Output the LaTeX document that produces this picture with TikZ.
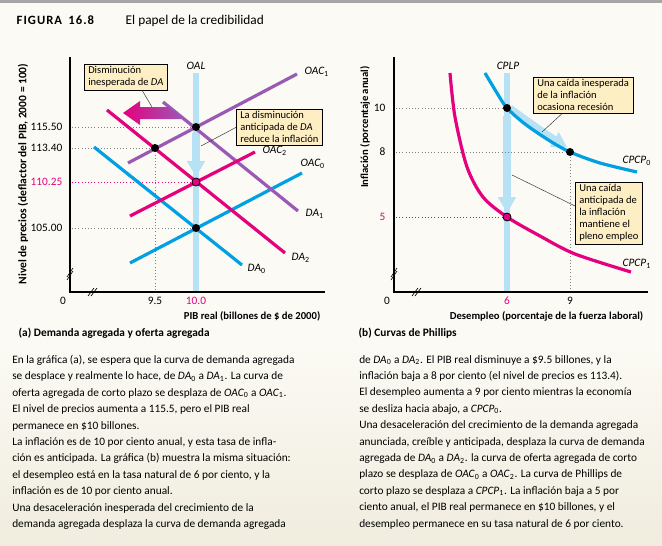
\documentclass[tikz,border=0pt]{standalone}
\usepackage{fontspec}
\setmainfont{Carlito}
\usetikzlibrary{arrows.meta,positioning}
\definecolor{cyanline}{RGB}{0,160,227}
\definecolor{pinkline}{RGB}{229,0,126}
\definecolor{purpleline}{RGB}{155,89,182}
\definecolor{paleblue}{RGB}{183,226,245}
\definecolor{notefill}{RGB}{253,238,196}
\definecolor{paper}{RGB}{251,250,244}
\definecolor{papershade}{RGB}{240,236,222}
\tikzset{curve/.style={line width=2.4pt},
         guide/.style={gray, line width=0.7pt, dash pattern=on 0.8pt off 1.6pt},
         axis/.style={line width=0.8pt},
         note/.style={draw, fill=notefill, line width=0.4pt, align=left, anchor=north west, inner xsep=3pt, inner ysep=1.8pt, font=\fontsize{7.9}{9}\selectfont},
         dot/.style={circle, fill=black, inner sep=0pt, minimum size=6pt},
         pinkdot/.style={dot, fill=pinkline, draw=black, line width=0.6pt},
         tick/.style={font=\fontsize{8.5}{10}\selectfont},
         curvelabel/.style={font=\fontsize{8.5}{10}\selectfont\itshape, anchor=west},
         axistitle/.style={font=\fontsize{8}{10}\selectfont\bfseries},
         pointer/.style={line width=0.35pt, black!80},
         bigarrow/.style={paleblue, line width=6pt, -{Triangle[width=13pt,length=12pt]}},
         bodytext/.style={align=left, anchor=north west, inner sep=0pt, font=\fontsize{8.5}{12.3}\selectfont}}

\begin{document}
\begin{tikzpicture}[x=0.75pt, y=-0.75pt]
                    \useasboundingbox (0,0) rectangle (662,546);
                    \fill[paper] (0,0) rectangle (662,546);
                    \shade[top color=paper, bottom color=papershade] (0,345) rectangle (662,546);
                    \fill[gray!70] (0,0) rectangle (662,3);

                    \node[anchor=base west, font=\fontsize{9.5}{11}\selectfont\bfseries\addfontfeatures{LetterSpace=8}] (fignum) at (12,24) {FIGURA\hspace{0.5em}16.8};
                    \node[anchor=base west, font=\fontsize{10}{12}\selectfont] (figtitle) at (121,24) {El papel de la credibilidad};

                    \draw[paleblue, line width=4.5pt] (196,73) -- (196,291);
                    \draw[bigarrow] (196,133) -- (196,177);
                    \node[curvelabel, anchor=center] (oal) at (196,66) {OAL};

                    \draw[guide] (72,127) -- (196,127);
                    \draw[guide] (72,148) -- (155,148) -- (155,291);
                    \draw[guide, pinkline] (72,182) -- (196,182);
                    \draw[guide] (72,228) -- (196,228);

                    \draw[curve, cyanline] (94,147) -- (242,265);
                    \draw[curve, cyanline] (130,263) -- (302,173);
                    \draw[curve, purpleline] (163,102) -- (298,211);
                    \draw[curve, purpleline] (128,163) -- (297,74);
                    \draw[curve, pinkline] (107,110) -- (285,253);
                    \draw[curve, pinkline] (130,216) -- (255,152);

                    \shade[left color=pinkline, right color=purpleline] (123,113) -- (140,101) -- (140,107) -- (169,107) -- (183,119) -- (140,119) -- (140,125) -- cycle;

                    \node[curvelabel] (oac1) at (300,72) {OAC\textsubscript{\upshape 1}};
                    \node[curvelabel] (oac2) at (258,151) {OAC\textsubscript{\upshape 2}};
                    \node[curvelabel] (oac0) at (296,164) {OAC\textsubscript{\upshape 0}};
                    \node[curvelabel] (da1) at (301,214) {DA\textsubscript{\upshape 1}};
                    \node[curvelabel] (da2) at (287,258) {DA\textsubscript{\upshape 2}};
                    \node[curvelabel] (da0) at (243,269) {DA\textsubscript{\upshape 0}};

                    \node[dot] (ea) at (196,127) {};
                    \node[dot] (eb) at (155,148) {};
                    \node[pinkdot] (ec) at (196,182) {};
                    \node[dot] (ed) at (196,228) {};

                    \draw[axis] (70,57) -- (70,292) -- (325,292);
                    \draw[line width=0.5pt] (67,277) -- (73,268) (67,280) -- (73,271);
                    \draw[line width=0.5pt] (88,296) -- (94,288) (91,296) -- (97,288);

                    \node[tick, anchor=east] (p1) at (67,127) {115.50};
                    \node[tick, anchor=east] (p2) at (67,148) {113.40};
                    \node[tick, anchor=east, pinkline] (p3) at (67,182) {110.25};
                    \node[tick, anchor=east] (p4) at (67,228) {105.00};
                    \node[tick] (q0) at (63,301) {0};
                    \node[tick] (q1) at (155,301) {9.5};
                    \node[tick, pinkline] (q2) at (196,301) {10.0};

                    \node[note] (noteA) at (84,64) {Disminución\\inesperada de \textit{DA}};
                    \coordinate (tipA) at (152,107);
                    \draw[pointer] (noteA.321) -- (tipA);
                    \node[note] (noteB) at (236,109) {La disminución\\anticipada de \textit{DA}\\reduce la inflación};
                    \coordinate (tipB) at (201,146);
                    \draw[pointer] (noteB.west) -- (tipB);

                    \node[axistitle, rotate=90, font=\fontsize{8.6}{10}\selectfont\bfseries] (ylabA) at (23,174) {Nivel de precios (deflactor del PIB, 2000 = 100)};
                    \node[axistitle, anchor=east] (xlabA) at (325,316) {PIB real (billones de \$ de 2000)};
                    \node[axistitle, anchor=west, font=\fontsize{8.5}{10}\selectfont\bfseries] (capA) at (14,333) {(a) Demanda agregada y oferta agregada};

                    \draw[paleblue, line width=4.5pt] (507,73) -- (507,291);
                    \draw[bigarrow] (507,116) -- (507,213);
                    \node[curvelabel, anchor=center] (cplp) at (508,66) {CPLP};

                    \draw[guide] (396,108) -- (507,108);
                    \draw[guide] (396,152) -- (570,152) -- (570,291);
                    \draw[guide, pinkline] (396,217) -- (507,217);

                    \draw[paleblue, line width=5pt, -{Triangle[width=12pt,length=11pt]}] plot[smooth] coordinates {(510,108) (528,121) (551,137) (567,147)};
                    \draw[curve, cyanline] plot[smooth] coordinates {(485,73) (497,93) (507,108) (525,124) (550,141) (570,152) (600,163) (637,172)};
                    \draw[curve, pinkline] plot[smooth] coordinates {(450,73) (455,117) (467,167) (483,197) (507,217) (540,236) (575,254) (631,272)};

                    \node[curvelabel] (cpcp0) at (618,161) {CPCP\textsubscript{\upshape 0}};
                    \node[curvelabel] (cpcp1) at (618,264) {CPCP\textsubscript{\upshape 1}};

                    \node[dot] (fa) at (507,108) {};
                    \node[dot] (fb) at (570,152) {};
                    \node[pinkdot] (fc) at (507,217) {};

                    \draw[axis] (394,57) -- (394,292) -- (648,292);
                    \draw[line width=0.5pt] (391,277) -- (397,268) (391,280) -- (397,271);
                    \draw[line width=0.5pt] (412,296) -- (418,288) (415,296) -- (421,288);

                    \node[tick, anchor=east] (r1) at (390,108) {10};
                    \node[tick, anchor=east] (r2) at (390,152) {8};
                    \node[tick, anchor=east, pinkline] (r3) at (390,217) {5};
                    \node[tick] (s0) at (387,301) {0};
                    \node[tick, pinkline] (s1) at (507,301) {6};
                    \node[tick] (s2) at (570,301) {9};

                    \node[note] (noteC) at (533,77) {Una caída inesperada\\de la inflación\\ocasiona recesión};
                    \coordinate (tipC) at (542,132);
                    \draw[pointer] (noteC.221) -- (tipC);
                    \node[note] (noteD) at (575,182) {Una caída\\anticipada de\\la inflación\\mantiene el\\pleno empleo};
                    \coordinate (tipD) at (512,175);
                    \draw[pointer] (noteD.168) -- (tipD);

                    \node[axistitle, rotate=90] (ylabB) at (365,127) {Inflación (porcentaje anual)};
                    \node[axistitle, anchor=east] (xlabB) at (648,316) {Desempleo (porcentaje de la fuerza laboral)};
                    \node[axistitle, anchor=west, font=\fontsize{8.5}{10}\selectfont\bfseries] (capB) at (354,333) {(b) Curvas de Phillips};

                    \node[bodytext] (textA) at (12,355) {En la gráfica (a), se espera que la curva de demanda agregada\\
                    se desplace y realmente lo hace, de \textit{DA}\textsubscript{0} a \textit{DA}\textsubscript{1}. La curva de\\
                    oferta agregada de corto plazo se desplaza de \textit{OAC}\textsubscript{0} a \textit{OAC}\textsubscript{1}.\\
                    El nivel de precios aumenta a 115.5, pero el PIB real\\
                    permanece en \$10 billones.\\
                    La inflación es de 10 por ciento anual, y esta tasa de infla-\\
                    ción es anticipada. La gráfica (b) muestra la misma situación:\\
                    el desempleo está en la tasa natural de 6 por ciento, y la\\
                    inflación es de 10 por ciento anual.\\
                    Una desaceleración inesperada del crecimiento de la\\
                    demanda agregada desplaza la curva de demanda agregada};

                    \node[bodytext] (textB) at (359,355) {de \textit{DA}\textsubscript{0} a \textit{DA}\textsubscript{2}. El PIB real disminuye a \$9.5 billones, y la\\
                    inflación baja a 8 por ciento (el nivel de precios es 113.4).\\
                    El desempleo aumenta a 9 por ciento mientras la economía\\
                    se desliza hacia abajo, a \textit{CPCP}\textsubscript{0}.\\
                    Una desaceleración del crecimiento de la demanda agregada\\
                    anunciada, creíble y anticipada, desplaza la curva de demanda\\
                    agregada de \textit{DA}\textsubscript{0} a \textit{DA}\textsubscript{2}. la curva de oferta agregada de corto\\
                    plazo se desplaza de \textit{OAC}\textsubscript{0} a \textit{OAC}\textsubscript{2}. La curva de Phillips de\\
                    corto plazo se desplaza a \textit{CPCP}\textsubscript{1}. La inflación baja a 5 por\\
                    ciento anual, el PIB real permanece en \$10 billones, y el\\
                    desempleo permanece en su tasa natural de 6 por ciento.};
\end{tikzpicture}
\end{document}
